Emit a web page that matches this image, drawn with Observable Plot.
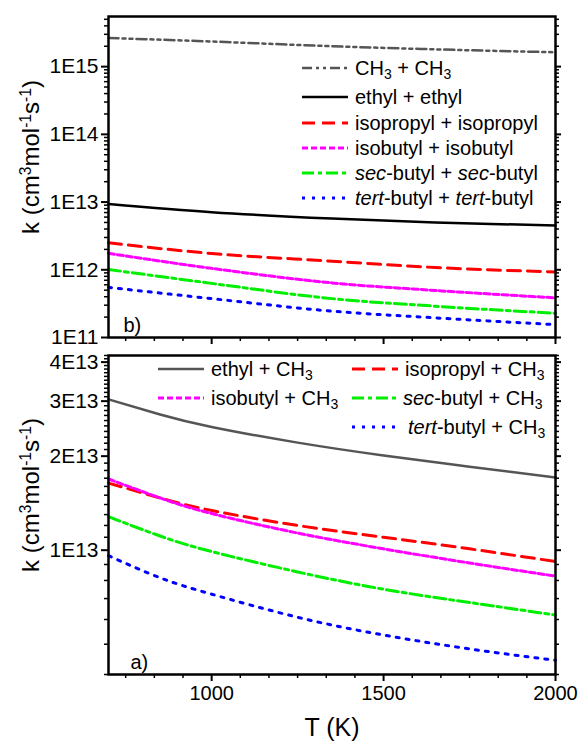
<!DOCTYPE html>
<html><head><meta charset="utf-8">
<script src="https://cdn.jsdelivr.net/npm/d3@7"></script>
<script src="https://cdn.jsdelivr.net/npm/@observablehq/plot@0.6"></script>
<style>
body{margin:0;background:#fff;font-family:"Liberation Sans",Arial,sans-serif;}
#wrap{position:relative;width:579px;height:745px;overflow:hidden;}
#wrap > svg{position:absolute;left:0;overflow:visible;}
.lt{position:absolute;font-size:20px;line-height:20px;white-space:nowrap;color:#000;transform:translateY(-50%);}
.lt sub{font-size:0.7em;vertical-align:-0.3em;line-height:0;}
.sw{position:absolute;overflow:visible;}
.yt{position:absolute;font-size:24px;white-space:nowrap;transform:translate(-50%,-50%) rotate(-90deg);line-height:24px;}
.yt sup{font-size:0.65em;vertical-align:0.5em;line-height:0;}
.xt{position:absolute;font-size:25px;white-space:nowrap;transform:translate(-50%,-50%);}
</style></head><body><div id="wrap"></div><script>
// ---------- data ----------
const T_top = [700, 1000, 1350, 1650, 2000];
const k_CH3_CH3     = [2.65e15, 2.35e15, 2.0e15, 1.8e15, 1.63e15];
const k_ethyl_ethyl = [9.4e12, 7.1e12, 5.7e12, 5.0e12, 4.5e12];
const k_iPr_iPr     = [2.5e12, 1.74e12, 1.34e12, 1.08e12, 9.3e11];
const k_iBu_iBu     = [1.75e12, 1.05e12, 6.4e11, 4.95e11, 3.85e11];
const k_sBu_sBu     = [1.01e12, 6.3e11, 3.75e11, 2.9e11, 2.28e11];
const k_tBu_tBu     = [5.5e11, 3.75e11, 2.45e11, 1.95e11, 1.55e11];

const T_bot = [700, 850, 1000, 1250, 1500, 1750, 2000];
const k_ethyl_CH3 = [3.04e13, 2.72e13, 2.48e13, 2.21e13, 2.01e13, 1.85e13, 1.71e13];
const k_iPr_CH3   = [1.64e13, 1.47e13, 1.34e13, 1.20e13, 1.10e13, 1.01e13, 9.2e12];
const k_iBu_CH3   = [1.69e13, 1.47e13, 1.31e13, 1.135e13, 1.01e13, 9.1e12, 8.26e12];
const k_sBu_CH3   = [1.28e13, 1.11e13, 9.9e12, 8.52e12, 7.5e12, 6.8e12, 6.2e12];
const k_tBu_CH3   = [9.6e12, 8.16e12, 7.23e12, 6.1e12, 5.35e12, 4.83e12, 4.44e12];

const xTicks = [1000, 1500, 2000];
const topYTicks = [1e11, 1e12, 1e13, 1e14, 1e15];
const botYTicks = [1e13, 2e13, 3e13, 4e13];

// ---------- helpers ----------
const FONT = "Liberation Sans, Arial, sans-serif";
const rows = (T, k) => T.map((t, i) => ({T: t, k: k[i]}));
const st = {
  CH3:   {stroke: "#555", strokeWidth: 2.5, strokeDasharray: "10,4,3,4,3,4"},
  ethyl: {stroke: "#000", strokeWidth: 2.5},
  eCH3:  {stroke: "#555", strokeWidth: 2.5},
  iPr:   {stroke: "#ff0000", strokeWidth: 3, strokeDasharray: "13,7"},
  iBu:   {stroke: "#ff00ff", strokeWidth: 3, strokeDasharray: "6,3"},
  sBu:   {stroke: "#00ee00", strokeWidth: 3, strokeDasharray: "12,4,4,4"},
  tBu:   {stroke: "#0000ff", strokeWidth: 3, strokeDasharray: "3,7"}
};
const line = (T, k, s, curve) => Plot.line(rows(T, k), {x: "T", y: "k", curve, ...s});

const xMinor = d3.range(-3, 16).map(j => 1000 + j * 500 / 6).filter(v => v >= 700 && v <= 2000 && Math.abs(((v - 1000) / 500) - Math.round((v - 1000) / 500)) > 1e-6);
const topMinor = [];
for (let d = 11; d <= 15; d++) for (let m = 2; m <= 9; m++) if (m * 10 ** d < 5.5e15) topMinor.push(m * 10 ** d);
const botMinor = d3.range(4, 43).map(m => m * 1e12).filter(v => v % 1e13 !== 0);
const blank = () => "";

function axes(yMaj, yMin, yFmt, xLabels) {
  return [
    Plot.axisY({ticks: yMin, tickFormat: blank, tickSize: 4, strokeWidth: 1.5, label: null}),
    Plot.axisY({ticks: yMaj, tickFormat: yFmt, tickSize: 7, tickPadding: 3, strokeWidth: 2, fontSize: 21, label: null}),
    Plot.axisY({anchor: "right", ticks: yMin, tickFormat: blank, tickSize: 3, strokeWidth: 1.5, label: null}),
    Plot.axisY({anchor: "right", ticks: yMaj, tickFormat: blank, tickSize: 5, strokeWidth: 2, label: null}),
    Plot.axisX({ticks: xMinor, tickFormat: blank, tickSize: 4, strokeWidth: 1.5, label: null}),
    Plot.axisX({ticks: xTicks, tickFormat: xLabels ? (d => String(d)) : blank, tickSize: 7, tickPadding: 4, strokeWidth: 2, label: null})
  ];
}

const wrap = document.getElementById("wrap");

// ---------- top panel (b) ----------
const topPlot = Plot.plot({
  width: 579, height: 345,
  marginLeft: 108, marginRight: 24, marginTop: 16, marginBottom: 8,
  style: {fontFamily: FONT, fontSize: "20px", color: "#000", background: "transparent", overflow: "visible"},
  x: {domain: [700, 2000]},
  y: {type: "log", domain: [1e11, 5.5e15]},
  marks: [
    line(T_top, k_CH3_CH3, st.CH3, "monotone-x"),
    line(T_top, k_ethyl_ethyl, st.ethyl, "monotone-x"),
    line(T_top, k_iPr_iPr, st.iPr, "monotone-x"),
    line(T_top, k_iBu_iBu, st.iBu, "monotone-x"),
    line(T_top, k_sBu_sBu, st.sBu, "monotone-x"),
    line(T_top, k_tBu_tBu, st.tBu, "monotone-x"),
    ...axes(topYTicks, topMinor, d => "1E" + Math.round(Math.log10(d)), false),
    Plot.frame({stroke: "#000", strokeWidth: 2.5}),
    Plot.text(["b)"], {frameAnchor: "bottom-left", dx: 15, dy: -6, fontSize: 20})
  ]
});
topPlot.style.top = "0px";
wrap.appendChild(topPlot);

// ---------- bottom panel (a) ----------
const botPlot = Plot.plot({
  width: 579, height: 400,
  marginLeft: 108, marginRight: 24, marginTop: 10, marginBottom: 71,
  style: {fontFamily: FONT, fontSize: "20px", color: "#000", background: "transparent", overflow: "visible"},
  x: {domain: [700, 2000]},
  y: {type: "log", domain: [4.0e12, 4.2e13]},
  marks: [
    line(T_bot, k_ethyl_CH3, st.eCH3, "natural"),
    line(T_bot, k_iPr_CH3, st.iPr, "natural"),
    line(T_bot, k_iBu_CH3, st.iBu, "natural"),
    line(T_bot, k_sBu_CH3, st.sBu, "natural"),
    line(T_bot, k_tBu_CH3, st.tBu, "natural"),
    ...axes(botYTicks, botMinor, d => Math.round(d / 1e13) + "E13", true),
    Plot.frame({stroke: "#000", strokeWidth: 2.5}),
    Plot.text(["a)"], {frameAnchor: "bottom-left", dx: 22, dy: -6, fontSize: 20})
  ]
});
botPlot.style.top = "345px";
wrap.appendChild(botPlot);

// ---------- legends ----------
function legend(x1, x2, y, tx, s, html) {
  const ns = "http://www.w3.org/2000/svg";
  const svg = document.createElementNS(ns, "svg");
  svg.setAttribute("class", "sw");
  svg.setAttribute("width", x2 - x1);
  svg.setAttribute("height", 10);
  svg.style.left = x1 + "px";
  svg.style.top = (y - 5) + "px";
  const l = document.createElementNS(ns, "line");
  l.setAttribute("x1", 0); l.setAttribute("x2", x2 - x1);
  l.setAttribute("y1", 5); l.setAttribute("y2", 5);
  l.setAttribute("stroke", s.stroke);
  l.setAttribute("stroke-width", s.strokeWidth);
  if (s.strokeDasharray) l.setAttribute("stroke-dasharray", s.strokeDasharray);
  svg.appendChild(l);
  wrap.appendChild(svg);
  const d = document.createElement("div");
  d.className = "lt";
  d.style.left = tx + "px";
  d.style.top = y + "px";
  d.innerHTML = html;
  wrap.appendChild(d);
}
legend(302, 348, 68, 355, st.CH3, "CH<sub>3</sub> + CH<sub>3</sub>");
legend(302, 348, 97, 355, st.ethyl, "ethyl + ethyl");
legend(302, 348, 123, 355, st.iPr, "isopropyl + isopropyl");
legend(302, 348, 148, 355, st.iBu, "isobutyl + isobutyl");
legend(302, 348, 173, 355, st.sBu, "<i>sec</i>-butyl + <i>sec</i>-butyl");
legend(302, 348, 198, 355, st.tBu, "<i>tert</i>-butyl + <i>tert</i>-butyl");

legend(158, 204, 369, 211, st.eCH3, "ethyl + CH<sub>3</sub>");
legend(158, 204, 398, 211, st.iBu, "isobutyl + CH<sub>3</sub>");
legend(352, 398, 369, 405, st.iPr, "isopropyl + CH<sub>3</sub>");
legend(352, 398, 398, 403, st.sBu, "<i>sec</i>-butyl + CH<sub>3</sub>");
legend(352, 398, 427, 408, st.tBu, "<i>tert</i>-butyl + CH<sub>3</sub>");

// ---------- axis titles ----------
const ytHtml = "k (cm<sup>3</sup>mol<sup>-1</sup>s<sup>-1</sup>)";
for (const cy of [157, 495]) {
  const d = document.createElement("div");
  d.className = "yt";
  d.style.left = "31px";
  d.style.top = cy + "px";
  d.innerHTML = ytHtml;
  wrap.appendChild(d);
}
const xt = document.createElement("div");
xt.className = "xt";
xt.style.left = "332px";
xt.style.top = "727px";
xt.textContent = "T (K)";
wrap.appendChild(xt);
</script></body></html>
